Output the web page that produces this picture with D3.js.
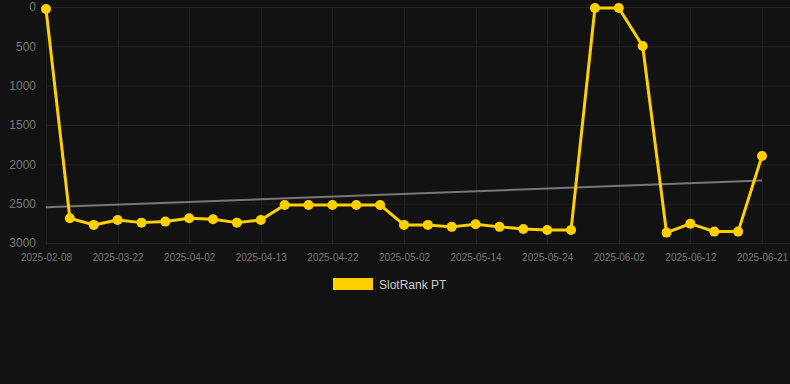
<!DOCTYPE html>
<html>
<head>
<meta charset="utf-8">
<script src="https://cdn.jsdelivr.net/npm/d3@7"></script>
<style>
  html, body { margin: 0; padding: 0; background: #121212; }
  svg { display: block; font-family: "Liberation Sans", Arial, sans-serif; }
</style>
</head>
<body>
<div id="chart"></div>
<script>
document.addEventListener("DOMContentLoaded", function () {
  const width = 790, height = 384;

  // dates on the x axis (only every third one is labelled)
  const dates = [
    "2025-02-08", "2025-03-08", "2025-03-15", "2025-03-22", "2025-03-26", "2025-03-29",
    "2025-04-02", "2025-04-06", "2025-04-09", "2025-04-13", "2025-04-16", "2025-04-19",
    "2025-04-22", "2025-04-25", "2025-04-28", "2025-05-02", "2025-05-06", "2025-05-10",
    "2025-05-14", "2025-05-17", "2025-05-21", "2025-05-24", "2025-05-27", "2025-05-30",
    "2025-06-02", "2025-06-05", "2025-06-09", "2025-06-12", "2025-06-15", "2025-06-18",
    "2025-06-21"
  ];

  // SlotRank PT rank values
  const ranks = [
    25, 2685, 2770, 2707, 2741, 2728, 2685, 2698, 2741, 2707, 2516, 2516,
    2516, 2516, 2516, 2770, 2770, 2795, 2761, 2795, 2821, 2834, 2834, 13,
    13, 496, 2868, 2754, 2855, 2855, 1893
  ];

  // trend line, start and end values
  const trend = [2545, 2207];

  const yTicks = [0, 500, 1000, 1500, 2000, 2500, 3000];
  const seriesName = "SlotRank PT";

  const svg = d3.select("#chart").append("svg")
    .attr("width", width)
    .attr("height", height);

  svg.append("rect")
    .attr("width", width).attr("height", height)
    .attr("fill", "#121212");

  const x = d3.scalePoint().domain(dates).range([46, 762]);
  const y = d3.scaleLinear().domain([0, 3000]).range([7, 243]);

  const labelled = dates.filter((d, i) => i % 3 === 0);

  // grid
  const grid = svg.append("g");
  grid.selectAll(".hg").data(yTicks).join("line")
    .attr("x1", 46).attr("x2", 790)
    .attr("y1", d => y(d) + 0.5).attr("y2", d => y(d) + 0.5)
    .attr("stroke", "#212121").attr("stroke-width", 1);
  grid.selectAll(".vg").data(labelled).join("line")
    .attr("x1", d => Math.round(x(d)) + 0.5).attr("x2", d => Math.round(x(d)) + 0.5)
    .attr("y1", y(0)).attr("y2", y(3000) + 2)
    .attr("stroke", "#212121").attr("stroke-width", 1);

  // y axis labels
  const yAxis = svg.append("g")
    .attr("transform", "translate(42,0)")
    .call(d3.axisLeft(y).tickValues(yTicks).tickFormat(d3.format("d")).tickSize(0).tickPadding(6));
  yAxis.select(".domain").remove();
  yAxis.selectAll("text")
    .attr("fill", "#777777")
    .attr("font-size", "12px")
    .attr("font-family", "Liberation Sans, Arial, sans-serif");

  // x axis labels
  const xAxis = svg.append("g")
    .attr("transform", "translate(0," + 251 + ")")
    .call(d3.axisBottom(x).tickValues(labelled).tickSize(0).tickPadding(3));
  xAxis.select(".domain").remove();
  xAxis.selectAll("text")
    .attr("fill", "#777777")
    .attr("font-size", "10px")
    .attr("font-family", "Liberation Sans, Arial, sans-serif");

  // trend line
  svg.append("line")
    .attr("x1", x(dates[0])).attr("y1", y(trend[0]))
    .attr("x2", x(dates[dates.length - 1])).attr("y2", y(trend[1]))
    .attr("stroke", "#777777").attr("stroke-width", 2);

  // series line
  const line = d3.line()
    .x((d, i) => x(dates[i]))
    .y(d => y(d));
  svg.append("path")
    .datum(ranks)
    .attr("d", line)
    .attr("fill", "none")
    .attr("stroke", "#ffd000")
    .attr("stroke-width", 3)
    .attr("stroke-linejoin", "round");

  svg.selectAll(".pt").data(ranks).join("circle")
    .attr("cx", (d, i) => x(dates[i]))
    .attr("cy", d => y(d))
    .attr("r", 5)
    .attr("fill", "#ffd000");

  // legend
  const legend = svg.append("g");
  legend.append("rect")
    .attr("x", 333).attr("y", 278)
    .attr("width", 40).attr("height", 12)
    .attr("fill", "#ffd000");
  legend.append("text")
    .attr("x", 379).attr("y", 289)
    .attr("fill", "#cccccc")
    .attr("font-size", "12px")
    .text(seriesName);
});
</script>
</body>
</html>
